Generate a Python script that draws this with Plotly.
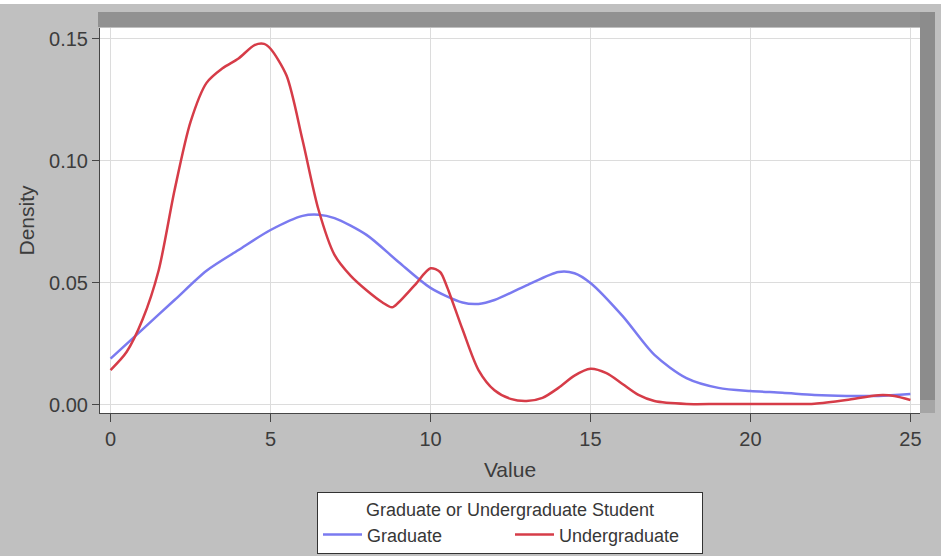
import plotly.graph_objects as go

# Graduate density curve
grad_x = [0, 1, 2, 3, 4, 5, 6, 6.5, 7, 8, 9, 10, 11, 11.5, 12, 13, 14, 14.5, 15, 16, 17, 18, 19, 20, 21, 22, 23, 24, 25]
grad_y = [0.019, 0.031, 0.043, 0.055, 0.0635, 0.0717, 0.0775, 0.078, 0.0766, 0.0697, 0.0586, 0.048, 0.042, 0.0414,
          0.043, 0.049, 0.0545, 0.054, 0.050, 0.0365, 0.0205, 0.011, 0.007, 0.0057, 0.005, 0.0041, 0.0037, 0.0037, 0.0045]

# Undergraduate density curve
under_x = [0, 0.5, 1, 1.5, 2, 2.5, 3, 3.5, 4, 4.5, 4.8, 5, 5.5, 6, 6.5, 7, 7.5, 8, 8.5, 8.8, 9, 9.5, 10, 10.3,
           10.5, 11, 11.5, 12, 12.5, 13, 13.5, 14, 14.5, 15, 15.5, 16, 16.5, 17, 18, 19, 20, 21, 22, 23, 24, 24.5, 25]
under_y = [0.0143, 0.0217, 0.035, 0.055, 0.088, 0.116, 0.132, 0.138, 0.142, 0.1475, 0.148, 0.146, 0.135, 0.1086,
           0.080, 0.0615, 0.053, 0.047, 0.042, 0.040, 0.042, 0.049, 0.056, 0.0545, 0.049, 0.031, 0.0143, 0.006,
           0.0025, 0.0016, 0.0029, 0.007, 0.012, 0.0148, 0.013, 0.0086, 0.0041, 0.0016, 0.0004, 0.0004, 0.0004,
           0.0004, 0.0005, 0.002, 0.004, 0.0037, 0.002]

x_ticks = [0, 5, 10, 15, 20, 25]
y_ticks = [0.00, 0.05, 0.10, 0.15]
y_tick_labels = ["0.00", "0.05", "0.10", "0.15"]

FONT = "Liberation Sans, Arial, sans-serif"

fig = go.Figure()
fig.add_trace(go.Scatter(x=grad_x, y=grad_y, mode="lines", name="Graduate",
                         line=dict(color="rgb(122,122,240)", width=2.5, shape="spline", smoothing=0.8)))
fig.add_trace(go.Scatter(x=under_x, y=under_y, mode="lines", name="Undergraduate",
                         line=dict(color="rgb(214,60,72)", width=2.5, shape="spline", smoothing=0.8)))

W, H = 941, 556
L, R, T, B = 100, 920, 28, 413

def px(xp):
    return (xp - L) / (R - L)

def py(yp):
    return (B - yp) / (B - T)

shapes = [
    # white strip at very top
    dict(type="rect", xref="paper", yref="paper", x0=px(0), x1=px(W), y0=py(4), y1=py(-2),
         fillcolor="white", line=dict(width=0), layer="above"),
    # dark band above plot
    dict(type="rect", xref="paper", yref="paper", x0=px(98), x1=px(920), y0=py(27), y1=py(12),
         fillcolor="rgb(145,145,145)", line=dict(width=0)),
    # right band
    dict(type="rect", xref="paper", yref="paper", x0=px(920), x1=px(935), y0=py(413), y1=py(12),
         fillcolor="rgb(140,140,140)", line=dict(width=0)),
    dict(type="rect", xref="paper", yref="paper", x0=px(920), x1=px(935), y0=py(413), y1=py(400),
         fillcolor="rgb(165,165,165)", line=dict(width=0)),
]

fig.update_layout(
    width=W, height=H,
    margin=dict(l=L, r=W - R, t=T, b=H - B, autoexpand=False),
    paper_bgcolor="rgb(192,192,192)",
    plot_bgcolor="white",
    font=dict(family=FONT, color="rgb(60,60,60)", size=13),
    shapes=shapes,
    showlegend=True,
    legend=dict(
        orientation="h", x=0.5, xanchor="center", xref="paper",
        y=1 - 492 / H, yanchor="top", yref="container",
        bgcolor="white", bordercolor="rgb(50,50,50)", borderwidth=1,
        title=dict(text="Graduate or Undergraduate Student", side="top center",
                   font=dict(family=FONT, size=18, color="rgb(55,55,55)")),
        font=dict(family=FONT, size=18, color="rgb(55,55,55)"),
        entrywidth=138, entrywidthmode="pixels",
        itemwidth=39, tracegroupgap=0,
    ),
    xaxis=dict(
        range=[-0.33, 25.3], tickvals=x_ticks, ticks="outside", ticklen=8, tickcolor="rgb(70,70,70)",
        showgrid=True, gridcolor="rgb(220,220,220)", gridwidth=1, zeroline=False,
        showline=True, linecolor="rgb(70,70,70)", linewidth=1,
        title=dict(text="Value", font=dict(size=21, family=FONT), standoff=13),
        tickfont=dict(size=20, family=FONT),
    ),
    yaxis=dict(
        range=[-0.0033, 0.1545], tickvals=y_ticks, ticktext=y_tick_labels, ticks="outside", ticklen=7,
        tickcolor="rgb(70,70,70)",
        showgrid=True, gridcolor="rgb(220,220,220)", gridwidth=1, zeroline=False,
        showline=True, linecolor="rgb(70,70,70)", linewidth=1,
        title=dict(text="Density", font=dict(size=21, family=FONT), standoff=8),
        tickfont=dict(size=20, family=FONT),
    ),
)

fig.write_html("out.html", config={"displayModeBar": False},
               post_script="document.body.style.margin='0px';document.body.style.padding='0px';")
